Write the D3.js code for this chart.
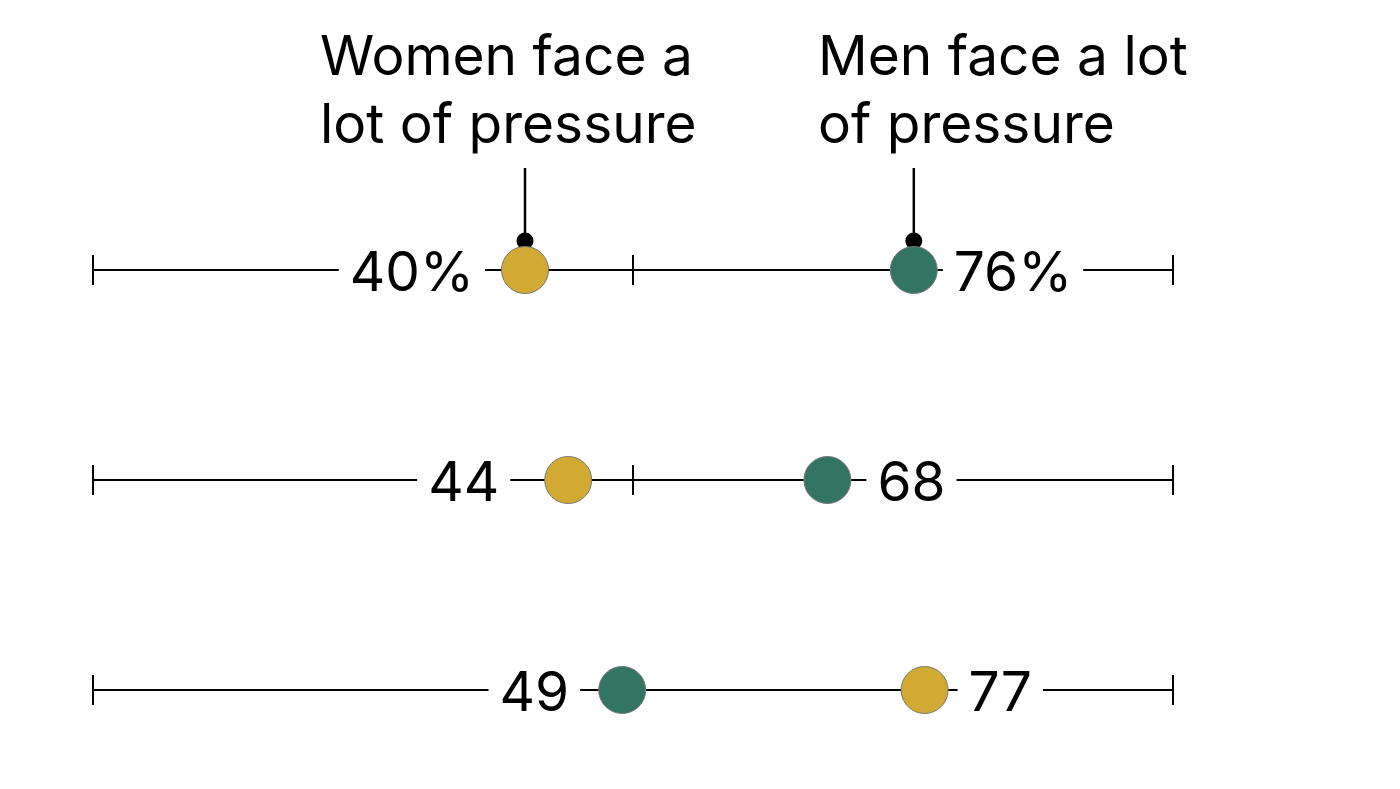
<!DOCTYPE html>
<html>
<head>
<meta charset="utf-8">
<script src="https://cdn.jsdelivr.net/npm/d3@7/dist/d3.min.js"></script>
<style>
  html, body { margin: 0; padding: 0; background: #fff; }
  svg text { font-family: Inter, Roboto, "Liberation Sans", sans-serif; }
</style>
</head>
<body>
<svg id="chart" width="1400" height="789"></svg>
<script>
// ---- data ----
const categories = ["Row 1", "Row 2", "Row 3"];
const series = ["Women face a lot of pressure", "Men face a lot of pressure"];
const womenValues = [40, 44, 77];
const menValues = [76, 68, 49];
const axisTicks = [0, 50, 100];
const headerLines = [["Women face a", "lot of pressure"], ["Men face a lot", "of pressure"]];

// ---- layout ----
const colors = ["#D2A933", "#337563"];
const rowY = [270, 480, 690];
// label gap (px from dot centre to label edge), per row, [low label, high label]
const labelGap = [[51, 40], [69, 50], [53, 44]];

const svg = d3.select("#chart");
const x = d3.scaleLinear().domain([0, 100]).range([93, 1173]);
const y = d3.scaleOrdinal().domain(categories).range(rowY);

const fontSize = 55;

headerLines.forEach((lines, si) => {
  const v = si === 0 ? womenValues[0] : menValues[0];
  const hx = si === 0 ? 320 : 818;
  const t = svg.append("text").attr("x", hx).attr("y", 75)
    .attr("font-size", fontSize).attr("fill", "#000");
  lines.forEach((l, i) => {
    t.append("tspan").attr("x", hx).attr("dy", i === 0 ? 0 : 68).text(l);
  });
  const cx = x(v);
  svg.append("line").attr("x1", cx).attr("x2", cx).attr("y1", 168).attr("y2", 241)
    .attr("stroke", "#000").attr("stroke-width", 2.5);
  svg.append("circle").attr("cx", cx).attr("cy", 241).attr("r", 8.5).attr("fill", "#000");
});

categories.forEach((cat, ri) => {
  const cy = y(cat);
  const g = svg.append("g");
  g.append("line").attr("x1", x(0)).attr("x2", x(100)).attr("y1", cy).attr("y2", cy)
    .attr("stroke", "#000").attr("stroke-width", 1.3).attr("shape-rendering", "crispEdges");
  g.selectAll("line.tick").data(axisTicks).enter().append("line")
    .attr("class", "tick")
    .attr("x1", d => x(d)).attr("x2", d => x(d))
    .attr("y1", cy - 15).attr("y2", cy + 15)
    .attr("stroke", "#000").attr("stroke-width", 1.3).attr("shape-rendering", "crispEdges");

  const pts = [
    { v: womenValues[ri], c: colors[0] },
    { v: menValues[ri], c: colors[1] }
  ];
  const lo = pts[0].v <= pts[1].v ? 0 : 1;
  const hi = 1 - lo;
  const suffix = ri === 0 ? "%" : "";

  [[lo, "end", -1, 0], [hi, "start", 1, 1]].forEach(([pi, anchor, dir, gi]) => {
    const p = pts[pi];
    const tx = x(p.v) + dir * labelGap[ri][gi];
    const bg = g.append("rect").attr("fill", "#fff");
    const t = g.append("text")
      .attr("x", tx).attr("y", cy + 21)
      .attr("text-anchor", anchor)
      .attr("font-size", fontSize).attr("fill", "#000")
      .text(p.v + suffix);
    const bb = t.node().getBBox();
    bg.attr("x", bb.x - 11).attr("y", cy - 20).attr("width", bb.width + 22).attr("height", 40);
  });

  g.selectAll("circle.dot").data(pts).enter().append("circle")
    .attr("class", "dot")
    .attr("cx", d => x(d.v)).attr("cy", cy).attr("r", 23.5)
    .attr("fill", d => d.c).attr("stroke", "#777").attr("stroke-width", 1);
});
</script>
</body>
</html>
